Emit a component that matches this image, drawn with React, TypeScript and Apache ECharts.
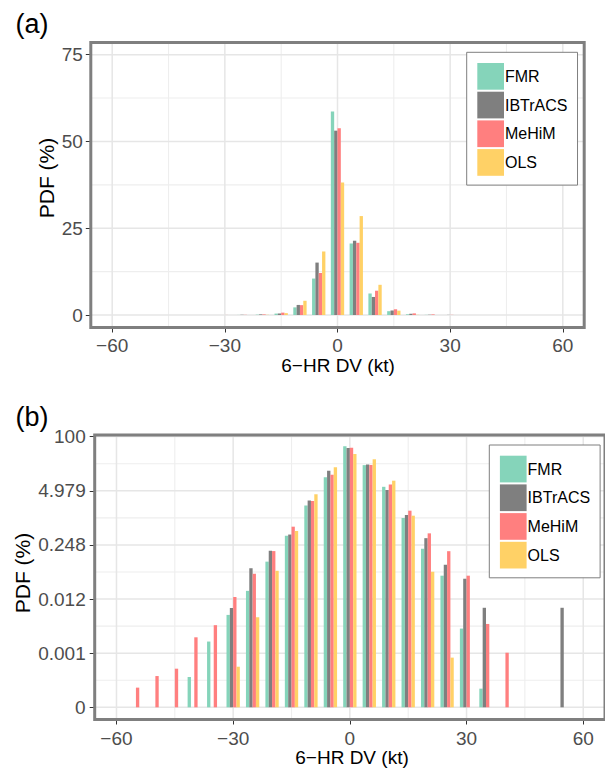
import React, { useEffect, useRef } from "react";
import * as echarts from "echarts";

// Bin centres (kt) of the 6-hr intensity change
const bins = [-55, -50, -45, -40, -35, -30, -25, -20, -15, -10, -5, 0, 5, 10, 15, 20, 25, 30, 35, 40, 45, 50, 55];
const seriesNames = ["FMR", "IBTrACS", "MeHiM", "OLS"];
const seriesColors = ["#85D4BA", "#7F7F7F", "#FF7F7F", "#FFD166"];

// PDF (%) per bin, null = empty bin
const fmrPdf = [null, null, null, 0.000164, 0.00117, 0.00512, 0.0194, 0.098, 0.41, 2.2, 10.5, 58.6, 20.6, 6.2, 1.1, 0.2, 0.045, 0.0024, 0.000086, null, null, null, null];
const ibtracsPdf = [null, null, null, null, null, 0.0075, 0.068, 0.18, 0.44, 2.9, 15.1, 53.1, 21.4, 5.2, 1.3, 0.36, 0.083, 0.038, 0.0076, null, null, null, 0.0076];
const mehimPdf = [0.000091, 0.000173, 0.00026, 0.00148, 0.0029, 0.0138, 0.05, 0.176, 0.68, 2.84, 12.1, 53.8, 20.8, 7.0, 1.65, 0.47, 0.175, 0.045, 0.0031, 0.00063, null, null, null];
const olsPdf = [null, null, null, null, null, 0.00029, 0.0045, 0.059, 0.535, 4.1, 18.3, 38.2, 28.5, 8.7, 1.25, 0.056, 0.00048, null, null, null, null, null, null];

// Tick values and labels
const xMajor = [-60, -30, 0, 30, 60];
const xMinor = [-45, -15, 15, 45];
const xTickLabels = ["\u221260", "\u221230", "0", "30", "60"];
const yMajorA = [0, 25, 50, 75];
const yMinorA = [12.5, 37.5, 62.5];
const yTickLabelsA = ["0", "25", "50", "75"];
// Panel (b): log scale; axis unit = ln(PDF) - ln(bottom tick value)
const yMajorB = [0, 3, 6, 9, 12, 15];
const yMinorB = [1.5, 4.5, 7.5, 10.5, 13.5];
const yTickLabelsB = ["0", "0.001", "0.012", "0.248", "4.979", "100"];
const logTopValue = 100;

const FONT = "'Liberation Sans', Arial, Helvetica, sans-serif";
const MAJOR = "#E6E6E6";
const MINOR = "#EEEEEE";

const XA: [number, number] = [-65.7, 65.7];
const YA: [number, number] = [-3.6, 78.5];
const XB: [number, number] = [-65.6, 65.6];
const YB: [number, number] = [-0.676, 15.09];

export default function App() {
  const ref = useRef<HTMLDivElement>(null);

  useEffect(() => {
    if (!ref.current) return;
    const chart = echarts.init(ref.current, undefined, { renderer: "svg" });
    const logBase = Math.log(logTopValue) - yMajorB[yMajorB.length - 1];
    const pdfs = [fmrPdf, ibtracsPdf, mehimPdf, olsPdf];
    const pairs = (vals: (number | null)[], f: (v: number) => number) =>
      bins
        .map((b, i) => (vals[i] == null ? null : [b, f(vals[i] as number)]))
        .filter((p) => p !== null);

    const axis = (
      gridIndex: number,
      range: [number, number],
      ticks: number[],
      labels: string[],
      isX: boolean,
      margin: number
    ) => ({
      type: "value",
      gridIndex,
      min: range[0],
      max: range[1],
      position: isX ? "bottom" : "left",
      axisLine: { show: false, onZero: false },
      axisTick: { show: true, customValues: ticks, length: 5, lineStyle: { color: "#333333", width: 1 } },
      axisLabel: {
        show: true,
        customValues: ticks,
        margin,
        color: "#4D4D4D",
        fontSize: 19,
        fontFamily: FONT,
        formatter: (v: number) => {
          const i = ticks.findIndex((t) => Math.abs(t - v) < 1e-6);
          return i >= 0 ? labels[i] : "";
        },
      },
      splitLine: { show: false },
    });

    const legend = (left: number, top: number) => ({
      orient: "vertical",
      left,
      top,
      data: seriesNames,
      icon: "rect",
      itemWidth: 26.7,
      itemHeight: 26.7,
      itemGap: 2,
      padding: [10.7, 10, 9.3, 10.6],
      backgroundColor: "#FFFFFF",
      borderColor: "#7F7F7F",
      borderWidth: 1,
      selectedMode: false,
      z: 10,
      textStyle: { fontSize: 16, color: "#000000", fontFamily: FONT, padding: [0, 0, 0, -4] },
    });

    const barSeries = (axisIndex: number, f: (v: number) => number) =>
      seriesNames.map((name, k) => ({
        type: "bar",
        name,
        xAxisIndex: axisIndex,
        yAxisIndex: axisIndex,
        data: pairs(pdfs[k], f),
        barWidth: 3.33,
        barGap: "0%",
        z: 2,
        itemStyle: { color: seriesColors[k] },
      }));

    const text = (t: string, x: number, y: number, size: number, rot = 0, color = "#000") => ({
      type: "text",
      x,
      y,
      rotation: rot,
      z: 10,
      style: {
        text: t,
        fill: color,
        fontSize: size,
        fontFamily: FONT,
        align: "center",
        verticalAlign: "middle",
      },
    });

    chart.setOption({
      animation: false,
      backgroundColor: "#FFFFFF",
      grid: [
        { left: 90.8, right: 20.8, top: 42.5, bottom: 442.5, show: true, borderColor: "#7F7F7F", borderWidth: 3, backgroundColor: "transparent", z: 3 },
        { left: 94.7, right: -3.9, top: 435, bottom: 50.5, show: true, borderColor: "#7F7F7F", borderWidth: 3, backgroundColor: "transparent", z: 3 },
      ],
      xAxis: [axis(0, XA, xMajor, xTickLabels, true, 8), axis(1, XB, xMajor, xTickLabels, true, 9)],
      yAxis: [axis(0, YA, yMajorA, yTickLabelsA, false, 8), axis(1, YB, yMajorB, yTickLabelsB, false, 9)],
      legend: [legend(466.7, 52.3), legend(489.3, 445)],
      series: [...barSeries(0, (v) => v), ...barSeries(1, (v) => Math.log(v) - logBase)],
    });

    // Panel grid lines placed through the axes' own scales
    const lines: any[] = [];
    const addLines = (gi: number, xr: [number, number], yr: [number, number], xs: number[], ys: number[], color: string, w: number) => {
      xs.forEach((v) => {
        const p0 = chart.convertToPixel({ xAxisIndex: gi, yAxisIndex: gi }, [v, yr[0]]) as number[];
        const p1 = chart.convertToPixel({ xAxisIndex: gi, yAxisIndex: gi }, [v, yr[1]]) as number[];
        lines.push({ type: "line", z: 1, silent: true, shape: { x1: p0[0], y1: p0[1], x2: p1[0], y2: p1[1] }, style: { stroke: color, lineWidth: w } });
      });
      ys.forEach((v) => {
        const p0 = chart.convertToPixel({ xAxisIndex: gi, yAxisIndex: gi }, [xr[0], v]) as number[];
        const p1 = chart.convertToPixel({ xAxisIndex: gi, yAxisIndex: gi }, [xr[1], v]) as number[];
        lines.push({ type: "line", z: 1, silent: true, shape: { x1: p0[0], y1: p0[1], x2: p1[0], y2: p1[1] }, style: { stroke: color, lineWidth: w } });
      });
    };
    addLines(0, XA, YA, xMinor, yMinorA, MINOR, 1.1);
    addLines(0, XA, YA, xMajor, yMajorA, MAJOR, 1.5);
    addLines(1, XB, YB, xMinor, yMinorB, MINOR, 1.1);
    addLines(1, XB, YB, xMajor, yMajorB, MAJOR, 1.5);

    chart.setOption({
      graphic: [
        text("(a)", 32, 24, 27),
        text("(b)", 32, 417, 27),
        text("PDF (%)", 46, 178, 21, Math.PI / 2),
        text("PDF (%)", 22, 573, 21, Math.PI / 2),
        text("6\u2212HR DV (kt)", 338, 365, 19),
        text("6\u2212HR DV (kt)", 352, 757, 19),
        ...lines,
      ],
    });
    return () => chart.dispose();
  }, []);

  return <div ref={ref} style={{ position: "fixed", left: 0, top: 0, width: 605, height: 770 }} />;
}
